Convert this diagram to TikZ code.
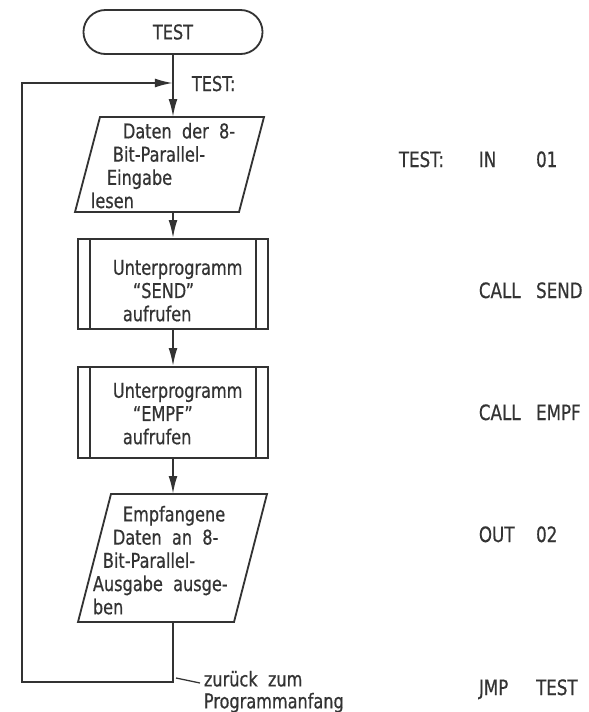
\documentclass[tikz,border=0pt]{standalone}
\usepackage{fontspec}
\setmainfont{DejaVu Sans Condensed}[FakeStretch=0.88, FakeBold=0.6, WordSpace=2]
\usetikzlibrary{arrows.meta}
\definecolor{ink}{gray}{0.2}

\begin{document}
\begin{tikzpicture}[x=0.025cm, y=-0.025cm, line width=1.3pt, color=ink,
        >={Latex[length=4.5mm,width=2.2mm]},
        box/.style={draw, minimum width=4.75cm, inner sep=0pt},
        txt/.style={inner sep=0pt, align=left, anchor=north west, font=\fontsize{14.5}{16.5}\selectfont},
        asm/.style={inner sep=0pt, anchor=base west, font=\fontsize{15}{17}\selectfont}]
        \useasboundingbox (0, 0) rectangle (589, 712);
        % Ablaufplan
        \node[draw, rounded corners=0.55cm, minimum width=4.475cm, minimum height=1.1cm, inner sep=0pt, font=\fontsize{14.5}{16}\selectfont] (start) at (173, 32) {TEST};
        \draw (75, 212) -- (100, 117) -- (264, 117) -- (239, 212) -- cycle;
        \coordinate (lesenT) at (173, 117);
        \coordinate (lesenB) at (173, 212);
        \node[txt] (lesen) at (90, 122) {\hspace*{0.8cm}Daten der 8-\\\hspace*{0.55cm}Bit-Parallel-\\\hspace*{0.4cm}Eingabe\\lesen};
        \node[box, minimum height=2.25cm] (send) at (173, 284) {};
        \draw ([xshift=0.33cm]send.north west) -- ([xshift=0.33cm]send.south west);
        \draw ([xshift=-0.33cm]send.north east) -- ([xshift=-0.33cm]send.south east);
        \node[txt] (sendtxt) at (112, 259) {Unterprogramm\\\hspace*{0.5cm}``SEND''\\\hspace*{0.25cm}aufrufen};
        \node[box, minimum height=2.275cm] (empf) at (173, 412.5) {};
        \draw ([xshift=0.33cm]empf.north west) -- ([xshift=0.33cm]empf.south west);
        \draw ([xshift=-0.33cm]empf.north east) -- ([xshift=-0.33cm]empf.south east);
        \node[txt] (empftxt) at (112, 382) {Unterprogramm\\\hspace*{0.5cm}``EMPF''\\\hspace*{0.25cm}aufrufen};
        \draw (78, 622) -- (111, 494) -- (267, 494) -- (234, 622) -- cycle;
        \coordinate (ausgT) at (173, 494);
        \coordinate (ausgB) at (173, 622);
        \node[txt] (ausg) at (92, 505) {\hspace*{0.75cm}Empfangene\\\hspace*{0.5cm}Daten an 8-\\\hspace*{0.25cm}Bit-Parallel-\\Ausgabe ausge-\\ben};
        % Verbindungen
        \coordinate (eintritt) at (173, 83);
        \coordinate (ecke) at (173, 682);
        \coordinate (links) at (22, 682);
        \draw[->] (start) -- (lesenT);
        \draw[->] (lesenB) -- (send);
        \draw[->] (send) -- (empf);
        \draw[->] (empf) -- (ausgT);
        \draw[->] (ausgB) -- (ecke) -- (links) |- (eintritt);
        \node[txt, anchor=base west] (marke) at (191, 91) {TEST:};
        \coordinate (zeigerA) at (176, 678);
        \coordinate (zeigerB) at (200, 683);
        \draw[line width=0.9pt] (zeigerA) -- (zeigerB);
        \node[txt, font=\fontsize{14.5}{15.6}\selectfont] (zurueck) at (203, 670) {zurück zum\\Programmanfang};
        % Assembler
        \node[asm] (r1) at (398, 167) {\makebox[2cm][l]{TEST:}\makebox[1.43cm][l]{IN}01};
        \node[asm] (r2) at (478, 298) {\makebox[1.43cm][l]{CALL}SEND};
        \node[asm] (r3) at (478, 420) {\makebox[1.43cm][l]{CALL}EMPF};
        \node[asm] (r4) at (478, 542) {\makebox[1.43cm][l]{OUT}02};
        \node[asm] (r5) at (478, 695) {\makebox[1.43cm][l]{JMP}TEST};
    \end{tikzpicture}
\end{document}
